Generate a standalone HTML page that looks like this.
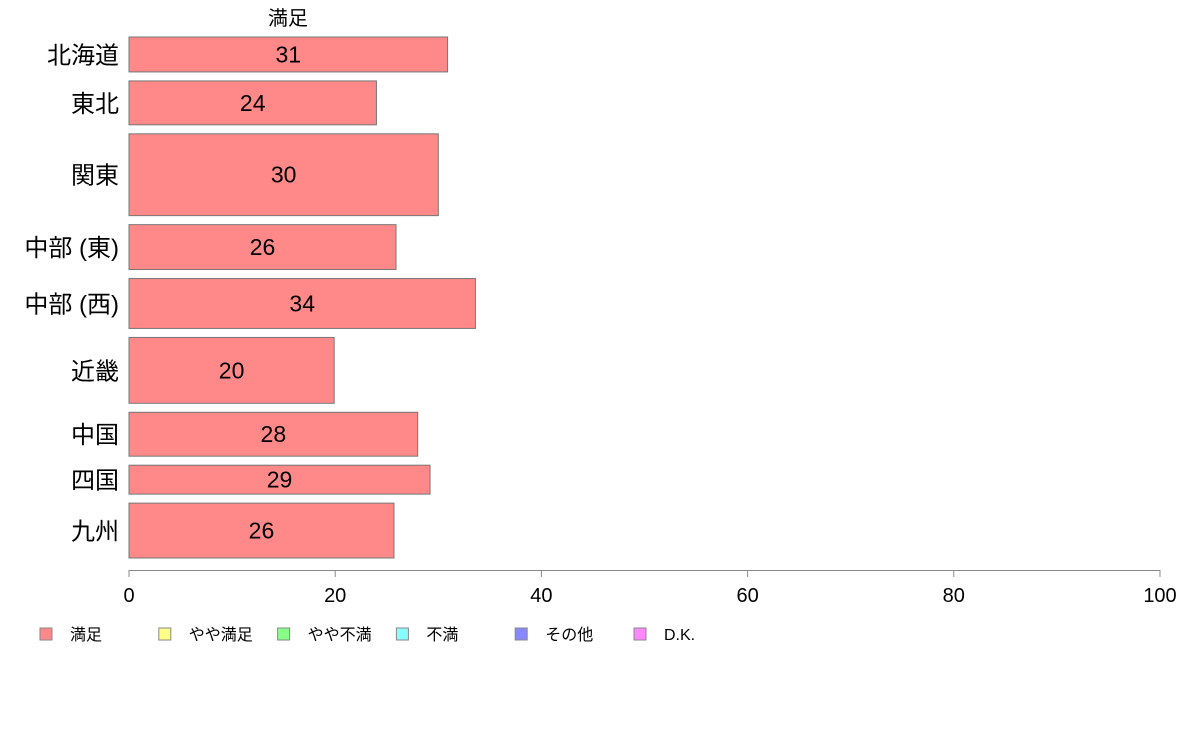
<!DOCTYPE html>
<html><head><meta charset="utf-8"><style>
html,body{margin:0;padding:0;background:#fff;}
svg{display:block;font-family:"Liberation Sans","Noto Sans CJK JP",sans-serif;}
</style></head><body>
<svg id="chart" width="1188" height="736" viewBox="0 0 1188 736">
<text x="288" y="25" font-size="20" text-anchor="middle">満足</text>
<g id="bars"></g>
<g id="xaxis"></g>
<g id="legend"></g>
</svg>
<script>
const categories = ["北海道","東北","関東","中部 (東)","中部 (西)","近畿","中国","四国","九州"];
const values = [30.9, 24.0, 30.0, 25.9, 33.6, 19.9, 28.0, 29.2, 25.7];
const labels = ["31","24","30","26","34","20","28","29","26"];
const weights = [35, 44, 82, 45, 50, 66, 44, 29, 55];
const ticks = [0, 20, 40, 60, 80, 100];
const legendLabels = ["満足","やや満足","やや不満","不満","その他","D.K."];
const legendColors = ["#ff8888","#ffff88","#88ff88","#88ffff","#8888ff","#ff88ff"];

const NS = "http://www.w3.org/2000/svg";
const x0 = 129, x1 = 1160, yTop = 37, yBot = 558, gap = 9;
const xs = v => x0 + (v / 100) * (x1 - x0);
const totalW = weights.reduce((a, b) => a + b, 0);
const avail = (yBot - yTop) - gap * (weights.length - 1);
function mk(tag, attrs, parent) {
  const e = document.createElementNS(NS, tag);
  for (const k in attrs) e.setAttribute(k, attrs[k]);
  parent.appendChild(e);
  return e;
}
const gb = document.getElementById("bars");
let y = yTop;
categories.forEach((c, i) => {
  const h = weights[i] / totalW * avail;
  const r = mk("rect", {x: x0, y: y, width: xs(values[i]) - x0, height: h, fill: "#ff8888", stroke: "#777", "stroke-width": 1}, gb);
  
  
  const t = mk("text", {x: (x0 + xs(values[i])) / 2, y: y + h / 2 + 8, "font-size": 23, "text-anchor": "middle"}, gb);
  t.textContent = labels[i];
  
  
  const cl = mk("text", {x: 119, y: y + h / 2 + 9, "font-size": 24, "text-anchor": "end"}, gb);
  cl.textContent = c;
  
  
  y += h + gap;
});
const gx = document.getElementById("xaxis");
mk("line", {x1: x0, x2: x1, y1: 570.5, y2: 570.5, stroke: "#888", "stroke-width": 1}, gx);
ticks.forEach(v => {
  mk("line", {x1: xs(v), x2: xs(v), y1: 570, y2: 577, stroke: "#888", "stroke-width": 1}, gx);
  const t = mk("text", {x: xs(v), y: 602, "font-size": 20, "text-anchor": "middle"}, gx);
  t.textContent = v;
  
  
});
const gl = document.getElementById("legend");
legendLabels.forEach((l, i) => {
  const lx = 40 + i * 118.8;
  const r = mk("rect", {x: lx, y: 628, width: 12, height: 12, fill: legendColors[i], stroke: "#888", "stroke-width": 1}, gl);
  
  
  const t = mk("text", {x: lx + 30, y: 640, "font-size": 16}, gl);
  t.textContent = l;
  
  
});
</script>
</body></html>
